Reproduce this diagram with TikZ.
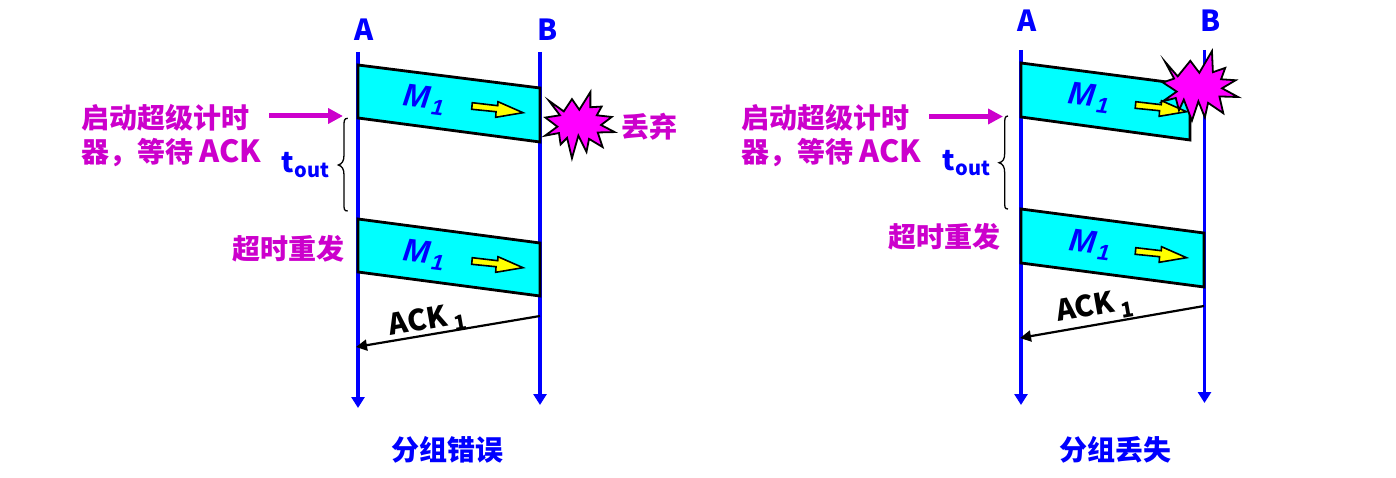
\documentclass[tikz,border=0pt]{standalone}
\usepackage{fontspec}
\usetikzlibrary{arrows.meta}
\newfontfamily\cjk{Noto Sans CJK SC}
\newfontfamily\latinit{Liberation Sans}
\definecolor{lineblue}{HTML}{0000FF}
\definecolor{pktcyan}{HTML}{00FFFF}
\definecolor{notepurple}{HTML}{CC00CC}
\definecolor{starpink}{HTML}{FF00FF}
\definecolor{arrowyellow}{HTML}{FFFF00}
\newcommand{\mylabel}[1]{\fontsize{#1}{#1}\selectfont\cjk\bfseries}
\tikzset{
  timeline/.style={draw=lineblue,line width=3.2pt,-{Triangle[length=11pt,width=13pt]}},
  packet/.style={draw=black,line width=2.8pt,fill=pktcyan,line join=miter},
  ackline/.style={draw=black,line width=2.2pt,-{Triangle[length=11pt,width=11pt]}},
  startarrow/.style={draw=notepurple,line width=5pt,-{Triangle[length=15pt,width=15pt]}},
  tbrace/.style={draw=black,line width=1.3pt},
  star/.style={draw=black,line width=1.8pt,fill=starpink,line join=miter,miter limit=10},
  flow/.style={draw=black,line width=1.6pt,fill=arrowyellow,line join=miter},
  endpoint/.style={inner sep=0pt,text=lineblue,font=\mylabel{29}},
  note/.style={inner sep=0pt,text=notepurple,font=\mylabel{28}},
  caption/.style={inner sep=0pt,text=lineblue,font=\mylabel{28}},
  timeout/.style={inner sep=0pt,text=lineblue,font=\mylabel{28}},
  msg/.style={inner sep=0pt,text=lineblue,font=\fontsize{32}{32}\selectfont\latinit\bfseries\itshape,rotate=-7},
  acklabel/.style={inner sep=0pt,text=black,font=\mylabel{29},rotate=10},
  acksub/.style={inner sep=0pt,text=black,font=\mylabel{21},rotate=10},
}
\newcommand{\flowarrow}[2]{%
  \draw[flow,shift={(#1,#2)}] (472.3,102.7) -- (497.7,105.7) -- (498,101.7) -- (523,112.7) -- (495.7,117.3) -- (496,111.7) -- (471.7,109.3) -- cycle;}
\newcommand{\bigack}{{\fontsize{30.5}{30.5}\selectfont ACK}}
\newcommand{\msgtext}{M\kern2pt\raisebox{-5pt}{\fontsize{22}{22}\selectfont 1}}
\begin{document}
\begin{tikzpicture}[x=1pt,y=-1pt]
\useasboundingbox (0,0) rectangle (1396,478);
% ---------- left
\coordinate (LAt) at (358,52); \coordinate (LAb) at (358,408);
\coordinate (LBt) at (540,52); \coordinate (LBb) at (540,405);
\draw[timeline] (LAt) -- (LAb);
\draw[timeline] (LBt) -- (LBb);
\node[endpoint] (LA) at (364,30) {A};
\node[endpoint] (LB) at (548,30) {B};
\draw[packet] (358,65) -- (540,88) -- (540,142) -- (358,118) -- cycle;
\draw[packet] (358,219) -- (540,243) -- (540,296) -- (358,272) -- cycle;
\flowarrow{0}{0}
\flowarrow{0}{155}
\node[msg] (LM1) at (424,100) {\msgtext};
\node[msg] (LM2) at (424,255) {\msgtext};
\coordinate (LAs) at (540,316); \coordinate (LAe) at (356,347);
\draw[ackline] (LAs) -- (LAe);
\node[acklabel] (LAck) at (418,320) {ACK};
\node[acksub] (LAck1) at (460,323) {1};
\begin{scope}[shift={(580,125)},scale=.97,shift={(-580,-125)}]
\draw[star] (548,100) -- (563.3,111) -- (571.7,98.3) -- (579.3,109.3) -- (590.7,91) -- (590.7,106.7) -- (602.3,106) -- (597.3,115) -- (612.7,116.7) -- (601.7,125) -- (615.7,132.3) -- (598.3,132.7) -- (603.3,147.7) -- (589.3,139.3) -- (586.7,152.7) -- (578.3,136) -- (571.7,159.3) -- (566.7,138.3) -- (560,145) -- (558.3,133.3) -- (544,136) -- (556.7,126.7) -- (544.3,117.3) -- (559.3,115) -- cycle;
\end{scope}
\node[note] (LDrop) at (649,127) {丢弃};
\node[note,align=left,anchor=north west] (LStart) at (81,104) {启动超级计时\\[6pt]器，等待 \bigack};
\coordinate (LSa) at (269,116); \coordinate (LSb) at (343,116);
\draw[startarrow] (LSa) -- (LSb);
\node[timeout] (LT) at (305.5,165) {t\raisebox{-5pt}{\fontsize{20}{20}\selectfont out}};
\draw[tbrace] (347.7,118.3) .. controls (344,118.3) and (344,121) .. (344,126) -- (344,155) .. controls (344,161) and (342,164) .. (338.3,165) .. controls (342,166) and (344,169) .. (344,175) -- (344,204) .. controls (344,209) and (344,211) .. (347.7,211);
\node[note] (LRe) at (288.5,249) {超时重发};
\node[caption] (LCap) at (447.5,450) {分组错误};
% ---------- right
\coordinate (RAt) at (1021,50); \coordinate (RAb) at (1021,405);
\coordinate (RBt) at (1204.5,50); \coordinate (RBb) at (1204.5,403);
\draw[timeline] (RAt) -- (RAb);
\draw[timeline] (RBt) -- (RBb);
\node[endpoint] (RA) at (1027,21) {A};
\node[endpoint] (RB) at (1211,21) {B};
\draw[packet] (1021,63) -- (1190,85) -- (1190,140) -- (1021,117) -- cycle;
\draw[packet] (1021,209) -- (1204,233) -- (1204,287) -- (1021,263) -- cycle;
\flowarrow{663.5}{-1}
\flowarrow{663.5}{145}
\node[msg] (RM1) at (1089,98) {\msgtext};
\node[msg] (RM2) at (1090,245) {\msgtext};
\coordinate (RAs) at (1204,306); \coordinate (RAe) at (1020,338);
\draw[ackline] (RAs) -- (RAe);
\node[acklabel] (RAck) at (1085,306) {ACK};
\node[acksub] (RAck1) at (1127,310) {1};
\begin{scope}[shift={(1200,88)},scale=.97,shift={(-1200,-88)}]
\draw[star] (1164,61) -- (1177,76) -- (1190,60) -- (1199.3,72.3) -- (1212.3,50) -- (1213.3,71.7) -- (1226,67.3) -- (1221.7,79) -- (1236.7,80) -- (1222.7,88.3) -- (1239.3,97.3) -- (1220,96.7) -- (1224,114) -- (1208.3,103.3) -- (1205,118.3) -- (1198.3,101.7) -- (1191.7,121.7) -- (1183.3,100) -- (1178.3,111) -- (1175,98.3) -- (1161.7,101.7) -- (1176,91.7) -- (1161.7,82.3) -- (1173.3,78.3) -- cycle;
\end{scope}
\node[note,align=left,anchor=north west] (RStart) at (741,104) {启动超级计时\\[6pt]器，等待 \bigack};
\coordinate (RSa) at (929,116.5); \coordinate (RSb) at (1003,116.5);
\draw[startarrow] (RSa) -- (RSb);
\node[timeout] (RT) at (966.5,163) {t\raisebox{-5pt}{\fontsize{20}{20}\selectfont out}};
\draw[tbrace] (1008,116) .. controls (1004.7,116) and (1004.7,119) .. (1004.7,124) -- (1004.7,153) .. controls (1004.7,159) and (1003,162) .. (999,162.7) .. controls (1003,164) and (1004.7,167) .. (1004.7,173) -- (1004.7,202) .. controls (1004.7,207) and (1004.7,209) .. (1008,209);
\node[note] (RRe) at (944.5,237) {超时重发};
\node[caption] (RCap) at (1115.5,450) {分组丢失};
\end{tikzpicture}
\end{document}
